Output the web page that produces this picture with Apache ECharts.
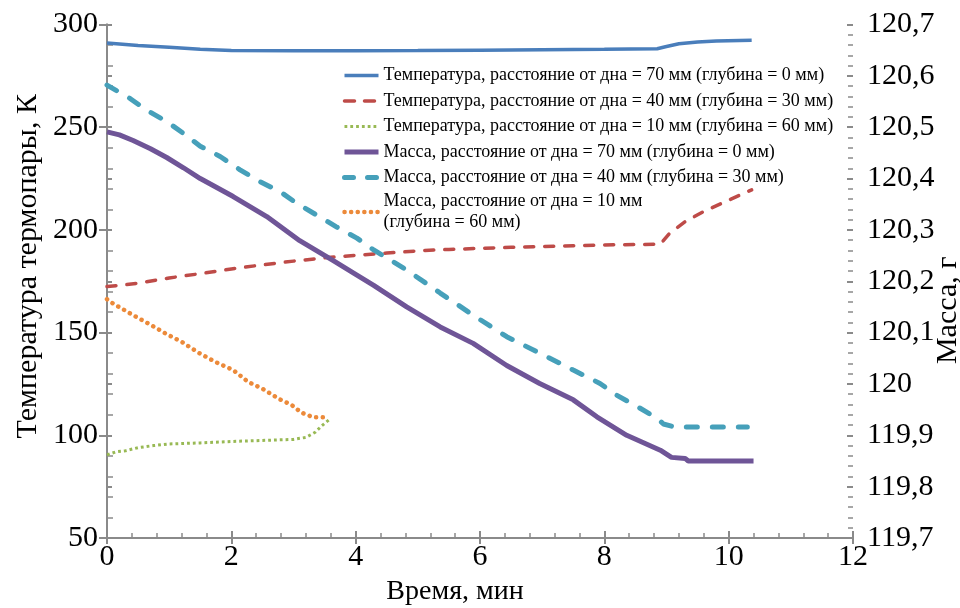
<!DOCTYPE html>
<html>
<head>
<meta charset="utf-8">
<script src="https://cdn.jsdelivr.net/npm/echarts@6/dist/echarts.min.js"></script>
<style>html,body{margin:0;padding:0;background:#fff}#c{width:960px;height:608px}</style>
</head>
<body>
<div id="c"></div>
<script>
// Names
var seriesNames = [
  'Температура, расстояние от дна = 70 мм (глубина = 0 мм)',
  'Температура, расстояние от дна = 40 мм (глубина = 30 мм)',
  'Температура, расстояние от дна = 10 мм (глубина = 60 мм)',
  'Масса, расстояние от дна = 70 мм (глубина = 0 мм)',
  'Масса, расстояние от дна = 40 мм (глубина = 30 мм)',
  'Масса, расстояние от дна = 10 мм\n(глубина = 60 мм)'
];
var xAxisName = 'Время, мин';
var yLeftName = 'Температура термопары, К';
var yRightName = 'Масса, г';

// Temperature, 70 mm
var t1 = [0, 0.5, 1, 1.5, 2, 3, 4, 5, 6, 7, 8, 8.85, 9.0, 9.2, 9.5, 9.8, 10.37];
var v1 = [291, 289.8, 288.9, 287.9, 287.4, 287.2, 287.2, 287.3, 287.5, 287.7, 287.9, 288.2, 289.3, 290.6, 291.5, 292, 292.3];
// Temperature, 40 mm
var t2 = [0, 0.5, 1, 1.5, 2, 2.5, 3, 3.5, 4, 4.5, 5, 5.5, 6, 6.5, 7, 7.5, 8, 8.5, 8.9, 9.05, 9.3, 9.6, 10, 10.37];
var v2 = [172.4, 174, 176.6, 178.7, 181, 183, 184.8, 186.4, 187.6, 188.7, 189.8, 190.5, 191, 191.5, 191.9, 192.3, 192.7, 192.9, 193, 198.4, 204, 209, 214.5, 219.5];
// Temperature, 10 mm
var t3 = [0, 0.15, 0.3, 0.5, 0.75, 1, 1.5, 2, 2.5, 3, 3.2, 3.35, 3.45, 3.57];
var v3 = [90.5, 92, 92.5, 94, 95, 95.8, 96.3, 97, 97.5, 98, 99, 101.5, 104.5, 107.5];
// Mass, 70 mm
var t4 = [0, 0.2, 0.42, 0.7, 0.96, 1.23, 1.5, 2.03, 2.57, 3.1, 3.64, 4.02, 4.29, 4.82, 5.36, 5.89, 6.43, 6.96, 7.5, 7.88, 8.36, 8.9, 9.08, 9.3, 9.35, 10.4];
var v4 = [120.491, 120.485, 120.474, 120.458, 120.441, 120.421, 120.40, 120.365, 120.326, 120.279, 120.24, 120.212, 120.192, 120.15, 120.111, 120.079, 120.036, 120.001, 119.969, 119.936, 119.90, 119.871, 119.857, 119.855, 119.85, 119.85];
// Mass, 40 mm
var t5 = [0, 0.37, 0.64, 0.96, 1.23, 1.5, 1.82, 2.14, 2.46, 2.79, 3.05, 3.37, 3.69, 4.02, 4.29, 4.82, 5.36, 5.89, 6.43, 6.96, 7.5, 7.93, 8.2, 8.53, 8.85, 8.95, 9.14, 10.3];
var v5 = [120.582, 120.556, 120.533, 120.511, 120.488, 120.463, 120.443, 120.417, 120.394, 120.374, 120.352, 120.329, 120.306, 120.284, 120.261, 120.222, 120.177, 120.134, 120.092, 120.06, 120.027, 120.001, 119.978, 119.956, 119.933, 119.922, 119.916, 119.916];
// Mass, 10 mm
var t6 = [0, 0.05, 0.42, 0.69, 0.96, 1.2, 1.47, 1.74, 2.03, 2.27, 2.51, 2.78, 2.97, 3.13, 3.32, 3.56];
var v6 = [120.165, 120.160, 120.134, 120.116, 120.097, 120.082, 120.061, 120.043, 120.027, 120.004, 119.99, 119.97, 119.959, 119.944, 119.935, 119.935];

var xTicks = {min: 0, max: 12, interval: 2};
var yLeftTicks = {min: 50, max: 300, interval: 50};
var yRightTicks = {min: 119.7, max: 120.7, interval: 0.1};

function pairs(t, v) { return t.map(function (x, i) { return [x, v[i]]; }); }

var FONT = 'Liberation Serif';
var AX = '#8a8a8a';
var colors = ['#4A7EBB', '#BE4B48', '#98B954', '#6F5597', '#46A0BA', '#EC8A3A'];
var lineStyles = [
  {color: colors[0], width: 3.5},
  {color: colors[1], width: 3.5, type: [9, 11], cap: 'round'},
  {color: colors[2], width: 3, type: [2.8, 3], cap: 'butt'},
  {color: colors[3], width: 5},
  {color: colors[4], width: 5, type: [11, 15], cap: 'round'},
  {color: colors[5], width: 4.5, type: [0.1, 6.6], cap: 'round'}
];
var legendLineStyles = [
  {color: colors[0], width: 3.5},
  {color: colors[1], width: 3.5, type: [10, 10], cap: 'round'},
  {color: colors[2], width: 3, type: [2.8, 3], cap: 'butt'},
  {color: colors[3], width: 5},
  {color: colors[4], width: 5, type: [9, 14], cap: 'round'},
  {color: colors[5], width: 4.5, type: [0.1, 6.5], cap: 'round'}
];
var chart = echarts.init(document.getElementById('c'), null, {renderer: 'canvas'});

var baseLine = {show: true, lineStyle: {color: AX, width: 2}};
var legendData = seriesNames.map(function (n, i) {
  var item = {name: n, lineStyle: legendLineStyles[i]};
  if (n.indexOf('\n') >= 0) {
    item.textStyle = {verticalAlign: 'top', padding: [-10.5, 0, 0, 0]};
  }
  return item;
});
var option = {
  animation: false,
  backgroundColor: '#fff',
  grid: {left: 107, right: 107, top: 24.5, bottom: 70, containLabel: false, outerBoundsMode: 'none'},
  legend: {
    orient: 'vertical', left: 337, top: 60,
    itemWidth: 34, itemHeight: 14, itemGap: 4.5,
    itemStyle: {opacity: 0},
    textStyle: {fontFamily: FONT, fontSize: 18, color: '#000', lineHeight: 21},
    data: legendData
  },
  xAxis: [{
    type: 'value', position: 'bottom', min: xTicks.min, max: xTicks.max, interval: xTicks.interval,
    name: xAxisName, nameLocation: 'middle', nameGap: 40, nameMoveOverlap: false,
    nameTextStyle: {fontFamily: FONT, fontSize: 28, color: '#000', padding: [0, 50, 0, 0]},
    axisLine: baseLine, axisTick: {show: true, inside: false, length: 6, lineStyle: {color: AX, width: 2}},
    axisLabel: {fontFamily: FONT, fontSize: 30, color: '#000', margin: 4},
    splitLine: {show: false}
  }, {
    type: 'value', position: 'bottom', offset: 0, min: xTicks.min, max: xTicks.max, interval: xTicks.interval,
    axisLine: {show: false}, axisLabel: {show: false}, splitLine: {show: false},
    axisTick: {show: true, inside: true, length: 7, lineStyle: {color: AX, width: 2}},
    minorTick: {show: true, splitNumber: 5, length: 5, lineStyle: {color: AX, width: 1.5}}
  }],
  yAxis: [{
    type: 'value', position: 'left', min: yLeftTicks.min, max: yLeftTicks.max, interval: yLeftTicks.interval,
    name: yLeftName, nameLocation: 'middle', nameGap: 64, nameMoveOverlap: false,
    nameTextStyle: {fontFamily: FONT, fontSize: 30, color: '#000', padding: [0, 0, 0, 30]},
    axisLine: baseLine, axisTick: {show: true, inside: false, length: 8, lineStyle: {color: AX, width: 2}},
    axisLabel: {fontFamily: FONT, fontSize: 30, color: '#000', margin: 9},
    splitLine: {show: false}
  }, {
    type: 'value', position: 'right', min: yRightTicks.min, max: yRightTicks.max, interval: yRightTicks.interval,
    name: yRightName, nameLocation: 'middle', nameGap: 80, nameMoveOverlap: false,
    nameTextStyle: {fontFamily: FONT, fontSize: 30, color: '#000', padding: [0, 58, 0, 0]},
    axisLine: baseLine, axisTick: {show: true, inside: false, length: 5, lineStyle: {color: AX, width: 2}},
    axisLabel: {fontFamily: FONT, fontSize: 30, color: '#000', margin: 14,
      formatter: function (v) { return String(Math.round(v * 10) / 10).replace('.', ','); }},
    splitLine: {show: false}
  }, {
    type: 'value', position: 'left', offset: 0, min: yLeftTicks.min, max: yLeftTicks.max, interval: yLeftTicks.interval,
    axisLine: {show: false}, axisLabel: {show: false}, splitLine: {show: false},
    axisTick: {show: true, inside: true, length: 2, lineStyle: {color: AX, width: 2}},
    minorTick: {show: true, splitNumber: 5, length: 6, lineStyle: {color: AX, width: 1.5}}
  }, {
    type: 'value', position: 'right', offset: 0, min: yRightTicks.min, max: yRightTicks.max, interval: yRightTicks.interval,
    axisLine: {show: false}, axisLabel: {show: false}, splitLine: {show: false},
    axisTick: {show: true, inside: true, length: 6, lineStyle: {color: AX, width: 2}},
    minorTick: {show: true, splitNumber: 5, length: 5, lineStyle: {color: AX, width: 1.5}}
  }],
  series: [
    {name: seriesNames[0], type: 'line', yAxisIndex: 0, symbol: 'none', data: pairs(t1, v1),
      color: colors[0], lineStyle: lineStyles[0]},
    {name: seriesNames[1], type: 'line', yAxisIndex: 0, symbol: 'none', data: pairs(t2, v2),
      color: colors[1], lineStyle: lineStyles[1]},
    {name: seriesNames[2], type: 'line', yAxisIndex: 0, symbol: 'none', data: pairs(t3, v3),
      color: colors[2], lineStyle: lineStyles[2]},
    {name: seriesNames[3], type: 'line', yAxisIndex: 1, symbol: 'none', data: pairs(t4, v4),
      color: colors[3], lineStyle: lineStyles[3]},
    {name: seriesNames[4], type: 'line', yAxisIndex: 1, symbol: 'none', data: pairs(t5, v5),
      color: colors[4], lineStyle: lineStyles[4]},
    {name: seriesNames[5], type: 'line', yAxisIndex: 1, symbol: 'none', data: pairs(t6, v6),
      color: colors[5], lineStyle: lineStyles[5]}
  ]
};
chart.setOption(option);
</script>
</body>
</html>
